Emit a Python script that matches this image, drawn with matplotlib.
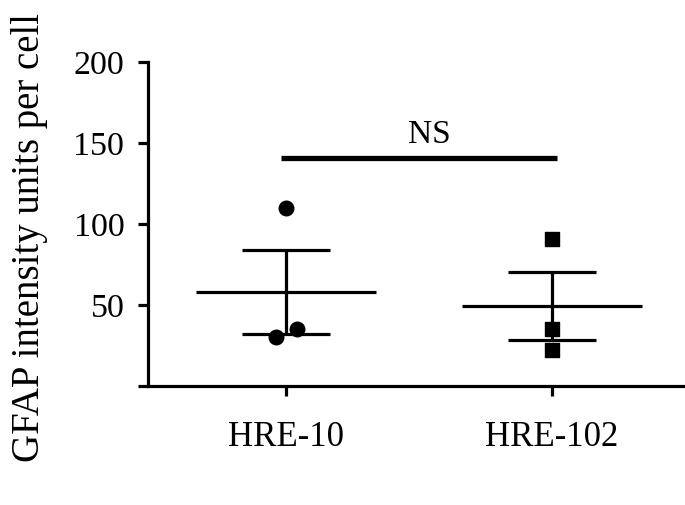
import matplotlib.pyplot as plt

plt.rcParams['font.family'] = ['Liberation Serif', 'DejaVu Serif']

groups = ['HRE-10', 'HRE-102']
hre10 = [110, 30, 35]
hre10_jitter = [0.0, -0.04, 0.04]
hre102 = [91, 35, 22]
hre102_jitter = [0.0, 0.0, 0.0]
means = [58.3, 49.3]
sem = [25.9, 21.2]
ns_level = 141
yticks = [50, 100, 150, 200]

fig = plt.figure(figsize=(6.85, 5.05), dpi=100)
ax = fig.add_axes([0.216, 0.2356, 0.784, 0.6416])

ax.scatter([0 + j for j in hre10_jitter], hre10, marker='o', s=110, color='black', zorder=3)
ax.scatter([1 + j for j in hre102_jitter], hre102, marker='s', s=110, color='black', zorder=3)

for i in range(len(groups)):
    ax.hlines(means[i], i - 0.338, i + 0.338, color='black', lw=2.3)
    ax.errorbar(i, means[i], yerr=sem[i], fmt='none', ecolor='black',
                elinewidth=2.3, capsize=0, zorder=2)
    ax.hlines([means[i] - sem[i], means[i] + sem[i]], i - 0.165, i + 0.165,
              color='black', lw=2.3)

ax.hlines(ns_level, -0.02, 1.02, color='black', lw=3.8)
ax.text(0.54, ns_level + 4.5, 'NS', ha='center', va='bottom', fontsize=24)

ax.set_xlim(-0.52, 1.5)
ax.set_ylim(0, 200)
ax.set_xticks([0, 1])
ax.set_xticklabels(groups, fontsize=25)
ax.set_yticks([0] + yticks)
ax.set_yticklabels([''] + [str(t) for t in yticks], fontsize=24.5)

# y label sits lower than the axes centre in the reference
fig.text(30 / 685, 1 - 237 / 505, 'GFAP intensity units per cell',
         rotation=90, ha='center', va='center', fontsize=28)

for side in ['top', 'right']:
    ax.spines[side].set_visible(False)
for side in ['left', 'bottom']:
    ax.spines[side].set_linewidth(2.3)
ax.tick_params(axis='both', width=2.3, length=7, direction='out')
ax.tick_params(axis='y', pad=10)
ax.tick_params(axis='x', pad=18)

fig.savefig('out.png', dpi=100)
